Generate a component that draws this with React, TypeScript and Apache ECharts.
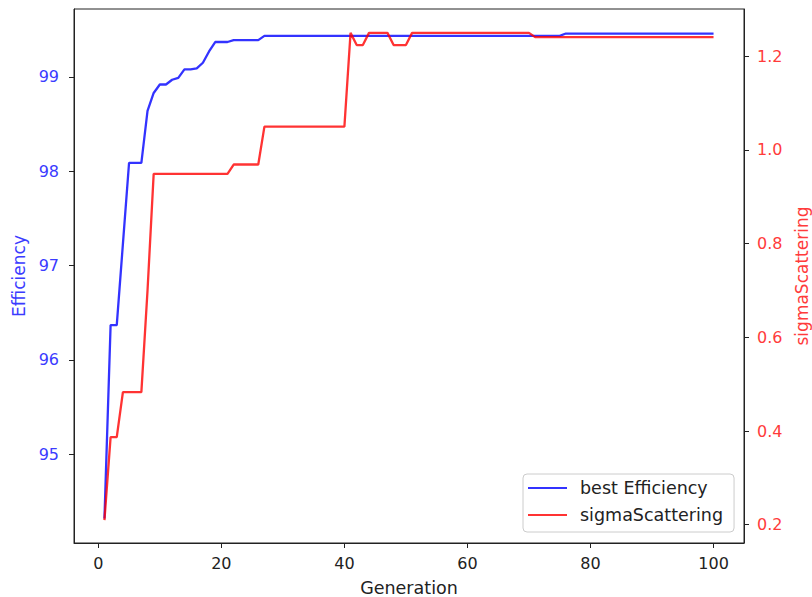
import React, { useEffect, useRef } from "react";
import * as echarts from "echarts";

const generations = [
  1, 2, 3, 4, 5, 6, 7, 8, 9, 10,
  11, 12, 13, 14, 15, 16, 17, 18, 19, 20,
  21, 22, 23, 24, 25, 26, 27, 28, 29, 30,
  31, 32, 33, 34, 35, 36, 37, 38, 39, 40,
  41, 42, 43, 44, 45, 46, 47, 48, 49, 50,
  51, 52, 53, 54, 55, 56, 57, 58, 59, 60,
  61, 62, 63, 64, 65, 66, 67, 68, 69, 70,
  71, 72, 73, 74, 75, 76, 77, 78, 79, 80,
  81, 82, 83, 84, 85, 86, 87, 88, 89, 90,
  91, 92, 93, 94, 95, 96, 97, 98, 99, 100,
];

const bestEfficiency = [
  94.32, 96.37, 96.37, 97.23, 98.09, 98.09, 98.09, 98.64, 98.83, 98.92,
  98.92, 98.97, 98.99, 99.08, 99.08, 99.09, 99.15, 99.27, 99.37, 99.37,
  99.37, 99.39, 99.39, 99.39, 99.39, 99.39, 99.435, 99.435, 99.435, 99.435,
  99.435, 99.435, 99.435, 99.435, 99.435, 99.435, 99.435, 99.435, 99.435, 99.435,
  99.435, 99.435, 99.435, 99.435, 99.435, 99.435, 99.435, 99.435, 99.435, 99.435,
  99.435, 99.435, 99.435, 99.435, 99.435, 99.435, 99.435, 99.435, 99.435, 99.435,
  99.435, 99.435, 99.435, 99.435, 99.435, 99.435, 99.435, 99.435, 99.435, 99.435,
  99.435, 99.435, 99.435, 99.435, 99.435, 99.46, 99.46, 99.46, 99.46, 99.46,
  99.46, 99.46, 99.46, 99.46, 99.46, 99.46, 99.46, 99.46, 99.46, 99.46,
  99.46, 99.46, 99.46, 99.46, 99.46, 99.46, 99.46, 99.46, 99.46, 99.46,
];

const sigmaScattering = [
  0.21, 0.387, 0.387, 0.483, 0.483, 0.483, 0.483, 0.7, 0.949, 0.949,
  0.949, 0.949, 0.949, 0.949, 0.949, 0.949, 0.949, 0.949, 0.949, 0.949,
  0.949, 0.969, 0.969, 0.969, 0.969, 0.969, 1.05, 1.05, 1.05, 1.05,
  1.05, 1.05, 1.05, 1.05, 1.05, 1.05, 1.05, 1.05, 1.05, 1.05,
  1.25, 1.224, 1.224, 1.25, 1.25, 1.25, 1.25, 1.224, 1.224, 1.224,
  1.25, 1.25, 1.25, 1.25, 1.25, 1.25, 1.25, 1.25, 1.25, 1.25,
  1.25, 1.25, 1.25, 1.25, 1.25, 1.25, 1.25, 1.25, 1.25, 1.25,
  1.241, 1.241, 1.241, 1.241, 1.241, 1.241, 1.241, 1.241, 1.241, 1.241,
  1.241, 1.241, 1.241, 1.241, 1.241, 1.241, 1.241, 1.241, 1.241, 1.241,
  1.241, 1.241, 1.241, 1.241, 1.241, 1.241, 1.241, 1.241, 1.241, 1.241,
];

const xTicks = [0, 20, 40, 60, 80, 100];
const leftTicks = [95, 96, 97, 98, 99];
const rightTicks = [0.2, 0.4, 0.6, 0.8, 1.0, 1.2];

const FONT = "DejaVu Sans";
const BLUE_LINE = "rgba(0,0,255,0.8)";
const RED_LINE = "rgba(255,0,0,0.8)";
const BLUE_TEXT = "#3b3bff";
const RED_TEXT = "#ff3b3b";
const AXIS = "#222";

export default function App() {
  const ref = useRef<HTMLDivElement>(null);
  useEffect(() => {
    document.body.style.margin = "0";
    document.body.style.overflow = "hidden";
    const chart = echarts.init(ref.current!, null, { renderer: "svg" });
    chart.setOption({
      animation: false,
      backgroundColor: "#fff",
      grid: {
        left: 74,
        right: 68,
        top: 9,
        bottom: 54,
        show: true,
        borderColor: AXIS,
        borderWidth: 1,
        outerBoundsMode: "none",
      },
      legend: {
        orient: "vertical",
        left: 523,
        top: 474,
        padding: [5, 11, 8, 5],
        itemGap: 9,
        itemWidth: 39,
        itemHeight: 2,
        icon: "rect",
        borderColor: "#ccc",
        borderWidth: 1,
        borderRadius: 4,
        backgroundColor: "rgba(255,255,255,0.8)",
        textStyle: {
          fontFamily: FONT,
          fontSize: 17.5,
          color: "#222",
          lineHeight: 18,
          padding: [0, 0, 0, 8],
        },
        data: ["best Efficiency", "sigmaScattering"],
      },
      xAxis: {
        type: "value",
        min: -3.95,
        max: 104.95,
        name: "Generation",
        nameLocation: "middle",
        nameGap: 36,
        nameTextStyle: { fontFamily: FONT, fontSize: 17.5, color: "#222" },
        axisLine: { show: true, onZero: false, lineStyle: { color: AXIS, width: 1 } },
        axisTick: {
          show: true,
          length: 5,
          lineStyle: { color: AXIS },
          customValues: xTicks,
        },
        axisLabel: {
          fontFamily: FONT,
          fontSize: 16,
          color: "#222",
          margin: 12,
          customValues: xTicks,
        },
        splitLine: { show: false },
      },
      yAxis: [
        {
          type: "value",
          position: "left",
          min: 94.06,
          max: 99.72,
          name: "Efficiency",
          nameLocation: "middle",
          nameRotate: 90,
          nameGap: 46,
          nameTextStyle: { fontFamily: FONT, fontSize: 17, color: BLUE_TEXT },
          axisLine: { show: true, onZero: false, lineStyle: { color: AXIS, width: 1 } },
          axisTick: {
            show: true,
            length: 5,
            lineStyle: { color: AXIS },
            customValues: leftTicks,
          },
          axisLabel: {
            fontFamily: FONT,
            fontSize: 16,
            color: BLUE_TEXT,
            margin: 15,
            customValues: leftTicks,
          },
          splitLine: { show: false },
        },
        {
          type: "value",
          position: "right",
          min: 0.161,
          max: 1.301,
          name: "sigmaScattering",
          nameLocation: "middle",
          nameRotate: 90,
          nameGap: 43,
          nameTextStyle: { fontFamily: FONT, fontSize: 17, color: RED_TEXT },
          axisLine: { show: true, onZero: false, lineStyle: { color: AXIS, width: 1 } },
          axisTick: {
            show: true,
            length: 5,
            lineStyle: { color: AXIS },
            customValues: rightTicks,
          },
          axisLabel: {
            fontFamily: FONT,
            fontSize: 16,
            color: RED_TEXT,
            margin: 13,
            customValues: rightTicks,
            formatter: (v: number) => v.toFixed(1),
          },
          splitLine: { show: false },
        },
      ],
      series: [
        {
          name: "best Efficiency",
          type: "line",
          yAxisIndex: 0,
          symbol: "none",
          color: BLUE_LINE,
          lineStyle: { color: BLUE_LINE, width: 2.3 },
          data: generations.map((g, i) => [g, bestEfficiency[i]]),
        },
        {
          name: "sigmaScattering",
          type: "line",
          yAxisIndex: 1,
          symbol: "none",
          color: RED_LINE,
          lineStyle: { color: RED_LINE, width: 2.3 },
          data: generations.map((g, i) => [g, sigmaScattering[i]]),
        },
      ],
    });
    return () => chart.dispose();
  }, []);
  return (
    <div
      ref={ref}
      style={{ position: "absolute", left: 0, top: 0, width: 812, height: 597 }}
    />
  );
}
